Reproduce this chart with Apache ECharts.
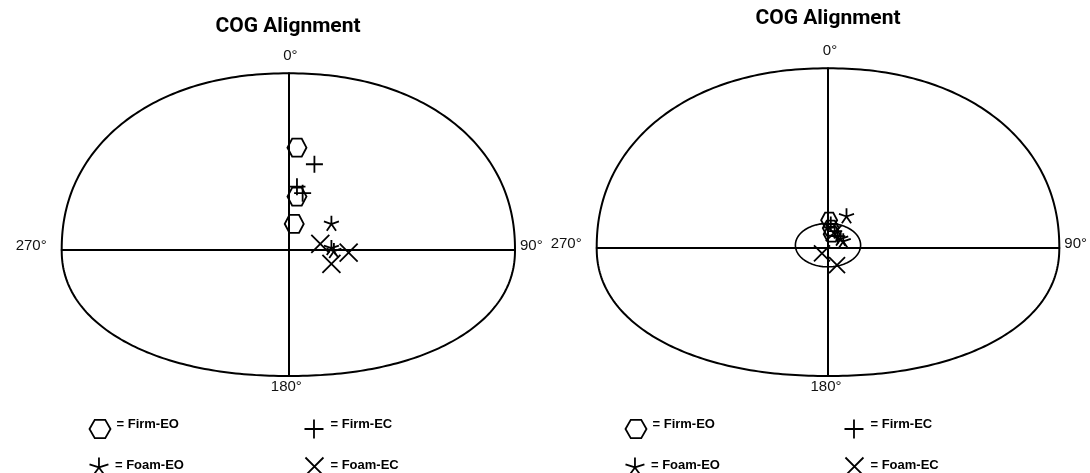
<!DOCTYPE html>
<html>
<head>
<meta charset="utf-8">
<script src="https://cdn.jsdelivr.net/npm/echarts@6/dist/echarts.min.js"></script>
<style>
  html, body { margin: 0; padding: 0; background: #fff; }
  #chart { width: 1090px; height: 473px; }
</style>
</head>
<body>
<div id="chart"></div>
<script>
// Balance test conditions
const conditions = ['Firm-EO', 'Firm-EC', 'Foam-EO', 'Foam-EC'];
const panelTitle = 'COG Alignment';
// Direction labels: front, right, back, left
const directionLabels = ['0°', '90°', '180°', '270°'];

// Centre-of-gravity positions, [x: left/right, y: back/front], % of limit of stability
const leftFirmEO = [[3.8, 57.9], [3.8, 30.2], [2.6, 14.7]];
const leftFirmEC = [[11.5, 48.5], [3.8, 35.8], [6.3, 32.1]];
const leftFoamEO = [[19.0, 15.1], [19.0, 1.4], [20.1, -0.3]];
const leftFoamEC = [[14.1, 3.4], [26.6, -1.5], [19.0, -7.9]];

const rightFirmEO = [[0.5, 15.4], [1.2, 11.0], [1.6, 7.6]];
const rightFirmEC = [[1.2, 13.2], [2.9, 9.3], [4.2, 6.5]];
const rightFoamEO = [[8.0, 17.9], [5.5, 5.4], [6.6, 4.0]];
const rightFoamEC = [[-2.6, -3.1], [3.9, -9.6], [2.5, 8.2]];

// Sway ellipse on the right plot: centre x, centre y, radius x, radius y
const rightSwayEllipse = [[0, 1.5, 14.1, 12.1]];

// Limit-of-stability extents
const X_LIMIT = 100;
const FRONT_LIMIT = 100;
const BACK_LIMIT = -71.4;
// Outline roundness (2 = plain ellipse, larger = squarer)
const OUTLINE_EXPONENT = 2.15;

const SYMBOLS = {
  'Firm-EO': 'path://M-1,0L-0.5,-0.87L0.5,-0.87L1,0L0.5,0.87L-0.5,0.87Z',
  'Firm-EC': 'path://M0,-1L0,1M-1,0L1,0',
  'Foam-EO': 'path://M0,0L0,-1M0,0L0.951,-0.309M0,0L-0.951,-0.309M0,0L0.588,0.809M0,0L-0.588,0.809',
  'Foam-EC': 'path://M-1,-1L1,1M-1,1L1,-1'
};

const FONT = 'Liberation Sans, Arial, sans-serif';

const panels = [
  {
    grid: { left: 61.7, top: 73.3, width: 453.3, height: 302.7 },
    title: { x: 288, y: 27 },
    series: [leftFirmEO, leftFirmEC, leftFoamEO, leftFoamEC],
    markerSize: [[19, 18], [17, 17], [15, 15], [18, 18]],
    legendLeft: 87, legendGaps: [123, 119]
  },
  {
    grid: { left: 596.7, top: 68.3, width: 462.6, height: 307.7 },
    title: { x: 828, y: 19 },
    series: [rightFirmEO, rightFirmEC, rightFoamEO, rightFoamEC],
    markerSize: [[16, 15], [15, 15], [15, 15], [16, 16]],
    legendLeft: 623, legendGaps: [127, 123]
  }
];

// Outline of the stability limit (two half-curves joined on the left/right axis) plus direction labels
function outlineItem(params, api) {
  const c = api.coord([0, 0]);
  const r = api.coord([X_LIMIT, 0]);
  const t = api.coord([0, FRONT_LIMIT]);
  const b = api.coord([0, BACK_LIMIT]);
  const l = api.coord([-X_LIMIT, 0]);
  const rx = r[0] - c[0];
  const up = c[1] - t[1];
  const down = b[1] - c[1];
  const e = 2 / OUTLINE_EXPONENT;
  const px = a => { const v = Math.cos(a); return Math.sign(v) * Math.pow(Math.abs(v), e); };
  const py = a => Math.pow(Math.abs(Math.sin(a)), e);
  const pts = [];
  for (let i = 0; i <= 180; i++) {
    const a = Math.PI - i * Math.PI / 180;
    pts.push([c[0] + rx * px(a), c[1] - up * py(a)]);
  }
  for (let i = 1; i < 180; i++) {
    const a = i * Math.PI / 180;
    pts.push([c[0] + rx * px(a), c[1] + down * py(a)]);
  }
  const labelStyle = (text, align) => ({
    text, fill: '#111', fontSize: 15, fontFamily: FONT, align, verticalAlign: 'middle'
  });
  return {
    type: 'group',
    children: [
      { type: 'polygon', shape: { points: pts }, style: { fill: 'none', stroke: '#000', lineWidth: 2 } },
      { type: 'text', x: t[0] + 2, y: t[1] - 17, style: labelStyle(directionLabels[0], 'center') },
      { type: 'text', x: r[0] + 5, y: r[1] - 4, style: labelStyle(directionLabels[1], 'left') },
      { type: 'text', x: b[0] - 2, y: b[1] + 11, style: labelStyle(directionLabels[2], 'center') },
      { type: 'text', x: l[0] - 15, y: l[1] - 4, style: labelStyle(directionLabels[3], 'right') }
    ]
  };
}

function swayEllipseItem(params, api) {
  const c = api.coord([api.value(0), api.value(1)]);
  const edge = api.coord([api.value(0) + api.value(2), api.value(1) + api.value(3)]);
  const rx = edge[0] - c[0];
  const ry = c[1] - edge[1];
  const pts = [];
  for (let i = 0; i < 120; i++) {
    const a = i * 2 * Math.PI / 120;
    pts.push([c[0] + rx * Math.cos(a), c[1] + ry * Math.sin(a)]);
  }
  return { type: 'polygon', shape: { points: pts }, style: { fill: 'none', stroke: '#000', lineWidth: 1.6 } };
}

const grid = [], xAxis = [], yAxis = [], series = [], title = [], legend = [];
const axisLine = { show: true, onZero: true, lineStyle: { color: '#000', width: 2 } };

// Legend label text, lifted a little above the icon centre
const legendText = raise => ({
  rich: {
    t: {
      fontFamily: FONT, fontWeight: 'bold', fontSize: 13, color: '#000',
      padding: [0, 0, raise, 1]
    }
  }
});
const legendLabel = name => '{t|= ' + name + '}';

panels.forEach((p, i) => {
  grid.push(Object.assign({ containLabel: false }, p.grid));
  xAxis.push({
    gridIndex: i, type: 'value', min: -X_LIMIT, max: X_LIMIT,
    axisLine, axisTick: { show: false }, axisLabel: { show: false }, splitLine: { show: false }
  });
  yAxis.push({
    gridIndex: i, type: 'value', min: BACK_LIMIT, max: FRONT_LIMIT,
    axisLine, axisTick: { show: false }, axisLabel: { show: false }, splitLine: { show: false }
  });
  title.push({
    text: panelTitle, left: p.title.x, top: p.title.y, padding: 0,
    textAlign: 'center', textVerticalAlign: 'middle',
    textStyle: { fontFamily: 'Roboto, ' + FONT, fontWeight: 'bold', fontSize: 21, color: '#000' }
  });
  series.push({
    type: 'custom', xAxisIndex: i, yAxisIndex: i, data: [[0, 0]],
    renderItem: outlineItem, silent: true, z: 1, clip: false
  });
  conditions.forEach((name, k) => {
    series.push({
      type: 'scatter', name, xAxisIndex: i, yAxisIndex: i,
      data: p.series[k], symbol: SYMBOLS[name], symbolSize: p.markerSize[k],
      itemStyle: { color: 'none', borderColor: '#000', borderWidth: 1.8, opacity: 1 },
      emphasis: { disabled: true }, silent: true, z: 3
    });
  });
  legend.push({
    data: [conditions[0], conditions[1]], left: p.legendLeft, top: 417, padding: 0,
    itemWidth: 21, itemHeight: 19, itemGap: p.legendGaps[0], selectedMode: false,
    formatter: legendLabel, textStyle: legendText(9),
    itemStyle: { color: 'none', borderColor: '#000', borderWidth: 1.8 }
  });
  legend.push({
    data: [conditions[2], conditions[3]], left: p.legendLeft, top: 455, padding: 0,
    itemWidth: 20, itemHeight: 18, itemGap: p.legendGaps[1], selectedMode: false,
    formatter: legendLabel, textStyle: legendText(3),
    itemStyle: { color: 'none', borderColor: '#000', borderWidth: 1.8 }
  });
});

series.push({
  type: 'custom', xAxisIndex: 1, yAxisIndex: 1, data: rightSwayEllipse,
  renderItem: swayEllipseItem, silent: true, z: 2, clip: false
});

const chart = echarts.init(document.getElementById('chart'), null, { renderer: 'canvas' });
chart.setOption({
  animation: false,
  backgroundColor: '#fff',
  title, grid, xAxis, yAxis, legend, series,
  tooltip: { show: false }
});
</script>
</body>
</html>
